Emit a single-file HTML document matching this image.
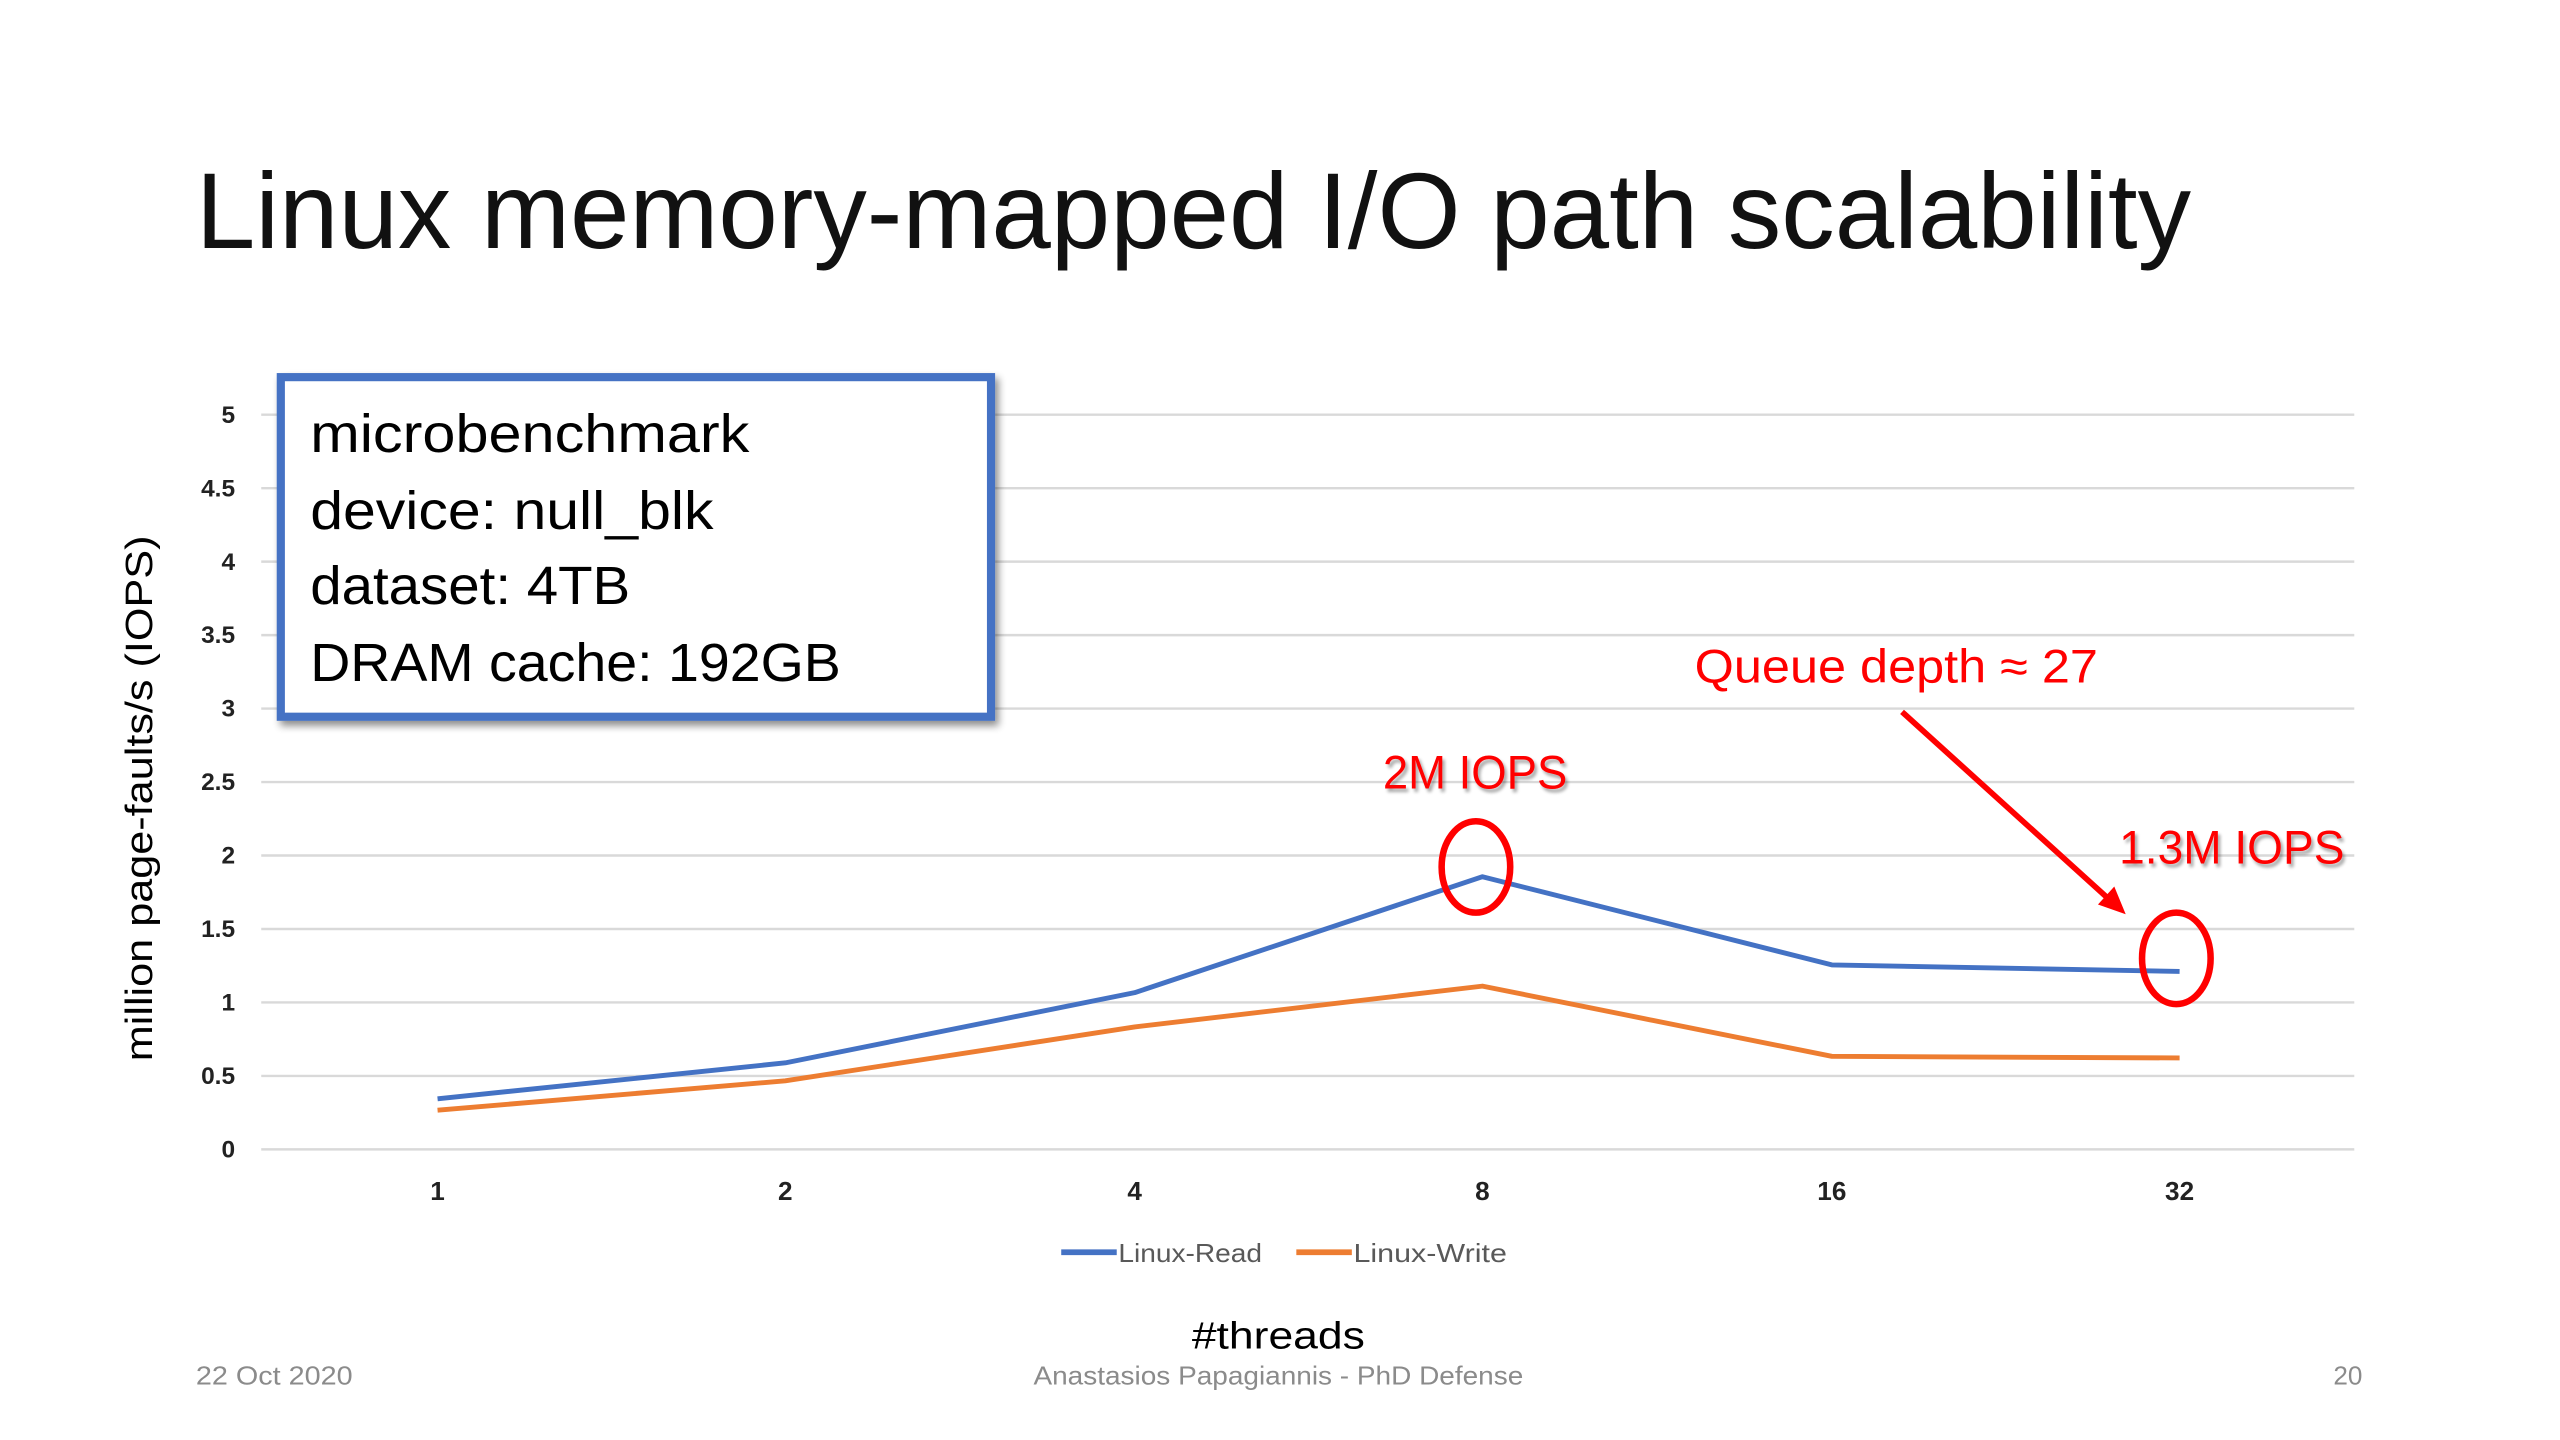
<!DOCTYPE html>
<html><head><meta charset="utf-8"><style>html,body{margin:0;padding:0;background:#fff;}svg{display:block;}</style></head>
<body>
<svg width="2560" height="1440" viewBox="0 0 1568 882" preserveAspectRatio="none" xmlns="http://www.w3.org/2000/svg" font-family="Liberation Sans, sans-serif">
<defs>
<filter id="sh" x="-10%" y="-10%" width="130%" height="130%"><feGaussianBlur in="SourceAlpha" stdDeviation="2.5"/><feOffset dx="2" dy="3"/><feComponentTransfer><feFuncA type="linear" slope="0.45"/></feComponentTransfer><feMerge><feMergeNode/><feMergeNode in="SourceGraphic"/></feMerge></filter>
<filter id="ts"><feGaussianBlur in="SourceAlpha" stdDeviation="1"/><feOffset dx="1.5" dy="2"/><feComponentTransfer><feFuncA type="linear" slope="0.35"/></feComponentTransfer><feMerge><feMergeNode/><feMergeNode in="SourceGraphic"/></feMerge></filter>
</defs>
<rect width="1568" height="882" fill="#fff"/>
<text x="120" y="152" font-size="66" fill="#111" textLength="1222" lengthAdjust="spacingAndGlyphs">Linux memory-mapped I/O path scalability</text>
<g stroke="#d9d9d9" stroke-width="1.5">
<line x1="160" x2="1442" y1="254" y2="254"/><line x1="160" x2="1442" y1="299" y2="299"/><line x1="160" x2="1442" y1="344" y2="344"/><line x1="160" x2="1442" y1="389" y2="389"/><line x1="160" x2="1442" y1="434" y2="434"/><line x1="160" x2="1442" y1="479" y2="479"/><line x1="160" x2="1442" y1="524" y2="524"/><line x1="160" x2="1442" y1="569" y2="569"/><line x1="160" x2="1442" y1="614" y2="614"/><line x1="160" x2="1442" y1="659" y2="659"/><line x1="160" x2="1442" y1="704" y2="704"/>
</g>
<g font-size="15" font-weight="bold" fill="#222" text-anchor="end">
<text x="144" y="259">5</text><text x="144" y="304">4.5</text><text x="144" y="349">4</text><text x="144" y="394">3.5</text><text x="144" y="439">3</text><text x="144" y="484">2.5</text><text x="144" y="529">2</text><text x="144" y="574">1.5</text><text x="144" y="619">1</text><text x="144" y="664">0.5</text><text x="144" y="709">0</text>
</g>
<text transform="translate(93,489) rotate(-90)" font-size="23" text-anchor="middle" fill="#000" textLength="322" lengthAdjust="spacingAndGlyphs">million page-faults/s (IOPS)</text>
<g font-size="16" font-weight="bold" fill="#222" text-anchor="middle">
<text x="268" y="735">1</text><text x="481" y="735">2</text><text x="695" y="735">4</text><text x="908" y="735">8</text><text x="1122" y="735">16</text><text x="1335" y="735">32</text>
</g>
<polyline points="268,673 481,651 695,608 908,537 1122,591 1335,595" fill="none" stroke="#4472c4" stroke-width="3" stroke-linejoin="round"/>
<polyline points="268,680 481,662 695,629 908,604 1122,647 1335,648" fill="none" stroke="#ed7d31" stroke-width="3" stroke-linejoin="round"/>
<line x1="650" x2="684" y1="767" y2="767" stroke="#4472c4" stroke-width="3.5"/>
<text x="685" y="773" font-size="16" fill="#595959" textLength="88" lengthAdjust="spacingAndGlyphs">Linux-Read</text>
<line x1="794" x2="828" y1="767" y2="767" stroke="#ed7d31" stroke-width="3.5"/>
<text x="829" y="773" font-size="16" fill="#595959" textLength="94" lengthAdjust="spacingAndGlyphs">Linux-Write</text>
<text x="783" y="826" font-size="23" fill="#000" text-anchor="middle" textLength="106" lengthAdjust="spacingAndGlyphs">#threads</text>
<text x="120" y="848" font-size="16" fill="#8b8b8b" textLength="96" lengthAdjust="spacingAndGlyphs">22 Oct 2020</text>
<text x="783" y="848" font-size="16" fill="#8b8b8b" text-anchor="middle" textLength="300" lengthAdjust="spacingAndGlyphs">Anastasios Papagiannis - PhD Defense</text>
<text x="1447" y="848" font-size="16" fill="#8b8b8b" text-anchor="end">20</text>
<rect x="172" y="231" width="435" height="208" fill="#fff" stroke="#4472c4" stroke-width="5" filter="url(#sh)"/>
<g font-size="33" fill="#000">
<text x="190" y="277" textLength="269" lengthAdjust="spacingAndGlyphs">microbenchmark</text>
<text x="190" y="324" textLength="247" lengthAdjust="spacingAndGlyphs">device: null_blk</text>
<text x="190" y="370" textLength="196" lengthAdjust="spacingAndGlyphs">dataset: 4TB</text>
<text x="190" y="417" textLength="325" lengthAdjust="spacingAndGlyphs">DRAM cache: 192GB</text>
</g>
<g fill="#ff0000" font-size="29" filter="url(#ts)">
<text x="847" y="483" textLength="113" lengthAdjust="spacingAndGlyphs">2M IOPS</text>
<text x="1298" y="529" textLength="138" lengthAdjust="spacingAndGlyphs">1.3M IOPS</text>
</g>
<text x="1038" y="418" fill="#ff0000" font-size="29" textLength="247" lengthAdjust="spacingAndGlyphs">Queue depth ≈ 27</text>
<ellipse cx="904" cy="531" rx="21" ry="28" fill="none" stroke="#ff0000" stroke-width="4"/>
<ellipse cx="1333" cy="587" rx="21" ry="28" fill="none" stroke="#ff0000" stroke-width="4"/>
<line x1="1165" y1="436" x2="1292" y2="551" stroke="#ff0000" stroke-width="3.5"/>
<polygon points="1302,560 1285,554 1295,543" fill="#ff0000"/>
</svg>
</body></html>
